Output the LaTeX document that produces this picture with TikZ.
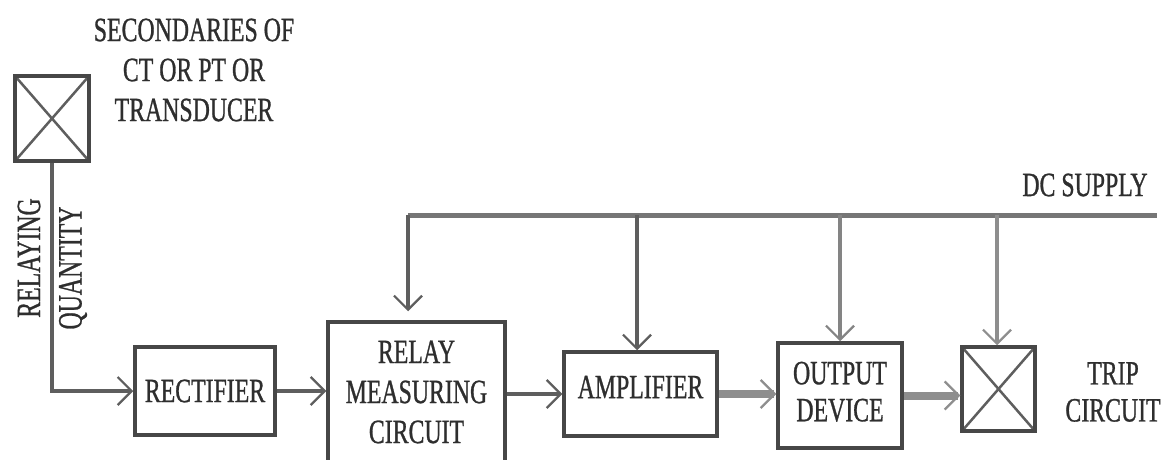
\documentclass[tikz,border=0pt]{standalone}
\usepackage{fontspec}
\newfontfamily\lbl[FakeStretch=0.7,FakeBold=0.8]{Liberation Serif}
\usetikzlibrary{arrows.meta}
\definecolor{edge}{HTML}{474747}
\definecolor{wire}{HTML}{5E5E5E}
\definecolor{fatwire}{HTML}{8E8E8E}
\definecolor{txt}{HTML}{2E2E2E}
\begin{document}
\begin{tikzpicture}[x=1pt,y=-1pt,
  every node/.style={font=\lbl\fontsize{34}{40}\selectfont, text=txt},
  blk/.style={draw=edge, line width=3.5pt, inner sep=0pt, align=center, fill=white},
  crossbox/.style={blk, path picture={
      \draw[wire, line width=2.5pt] (path picture bounding box.north west) -- (path picture bounding box.south east)
        (path picture bounding box.north east) -- (path picture bounding box.south west);}},
  barb/.tip={Straight Barb[length=14pt,width=28pt,line width=2.2pt]},
  conn/.style={draw=wire, line width=4pt, -barb},
  fatconn/.style={draw=fatwire, line width=8pt, -barb},
  bus/.style={draw=wire!85, line width=5pt}]
\useasboundingbox (0,0) rectangle (1162,460);

% blocks
\node[crossbox, minimum width=74pt, minimum height=85pt] (src) at (52,118.5) {};
\node[blk, minimum width=140pt, minimum height=88pt] (rect) at (205,391) {RECTIFIER};
\node[blk, minimum width=177pt, minimum height=140pt] (relay) at (416.5,392) {RELAY\\MEASURING\\CIRCUIT};
\node[blk, minimum width=153pt, minimum height=84pt, text depth=14pt] (amp) at (640.5,394) {AMPLIFIER};
\node[blk, minimum width=124pt, minimum height=105pt, text depth=8pt, font=\lbl\fontsize{34}{37}\selectfont] (out) at (840,395.5) {OUTPUT\\DEVICE};
\node[crossbox, minimum width=73pt, minimum height=84pt] (trip) at (998.5,389) {};

% labels
\node[align=center, font=\lbl\fontsize{34}{40}\selectfont] (seclbl) at (194,70) {SECONDARIES OF\\CT OR PT OR\\TRANSDUCER};
\node[rotate=90] (rellbl) at (29,258) {RELAYING};
\node[rotate=90] (qlbl) at (73,268) {QUANTITY};
\node (dclbl) at (1085,185) {DC SUPPLY};
\node[align=center, font=\lbl\fontsize{34}{37}\selectfont] (triplbl) at (1113,392) {TRIP\\CIRCUIT};

% DC supply bus
\coordinate (busL) at (408,215);
\coordinate (busR) at (1157,215);
\coordinate (j1) at (637,215);
\coordinate (j2) at (840,215);
\coordinate (j3) at (997,215);
\draw[bus] (busL) -- (busR);
\draw[conn] (busL) -- ([yshift=9pt]relay.north -| busL);
\draw[conn] (j1) -- (j1 |- amp.north);
\draw[conn, draw=fatwire!80!wire] (j2) -- (j2 |- out.north);
\draw[conn, draw=fatwire] (j3) -- (j3 |- trip.north);

% signal path
\draw[conn] (src.south) -- (src.south |- rect.west) -- (rect.west);
\draw[conn] (rect.east) -- (rect.east -| relay.west);
\draw[conn] (amp.west -| relay.east) -- (amp.west);
\draw[fatconn] (amp.east) -- (amp.east -| out.west);
\draw[fatconn] (out.east) -- (out.east -| trip.west);
\end{tikzpicture}
\end{document}
